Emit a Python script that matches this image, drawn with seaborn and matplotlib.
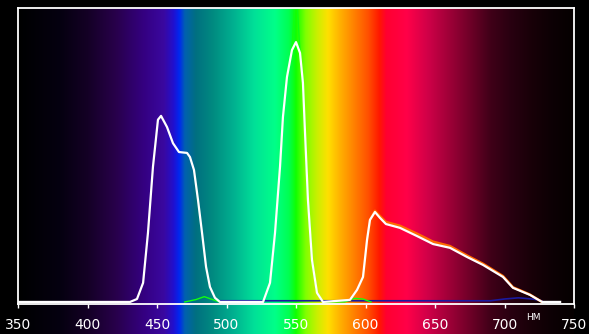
import numpy as np
import pandas as pd
import matplotlib
matplotlib.use("Agg")
import matplotlib.pyplot as plt
from matplotlib.colors import LinearSegmentedColormap
import seaborn as sns

# ---- data ----
white_wl = [350, 425, 430.6, 435.6, 440, 443.5, 447.1, 450.7, 452.9, 457.2, 461.5,
            465.8, 471.6, 473.7, 476.6, 479.5, 482.4, 485.3, 488.1, 491.7, 495.3,
            526.3, 531.3, 534.9, 538.5, 540.6, 543.5, 547.1, 550, 552.9, 555, 556.5,
            558.6, 561.5, 565.1, 569.4, 588.8, 593.9, 598.2, 601.1, 603.2, 606.8,
            610.4, 614.7, 624.8, 637.1, 648.6, 660.8, 673, 684.5, 698.9, 706.1,
            718.3, 727, 740]
white_val = [0, 0, 0.0, 0.01, 0.065, 0.235, 0.46, 0.62, 0.633, 0.595, 0.54,
             0.51, 0.507, 0.493, 0.449, 0.347, 0.235, 0.119, 0.051, 0.014, 0.0,
             0.0, 0.065, 0.235, 0.46, 0.629, 0.765, 0.857, 0.884, 0.847, 0.745, 0.575,
             0.347, 0.143, 0.031, 0.0, 0.007, 0.041, 0.085, 0.211, 0.279, 0.306,
             0.286, 0.265, 0.252, 0.224, 0.197, 0.184, 0.153, 0.126, 0.085, 0.048,
             0.024, 0.0, 0.0]

green_wl = [470, 478, 484, 490, 495, 526.3, 531.3, 534.9, 538.5, 540.6, 543.5,
            547.1, 549, 550, 551, 552.9, 555, 556.5, 558.6, 561.5, 565.1, 569.4,
            585, 592, 598, 604]
green_val = [0, 0.008, 0.018, 0.008, 0, 0.0, 0.065, 0.235, 0.46, 0.629, 0.765,
             0.857, 1.0, 1.1, 1.0, 0.847, 0.745, 0.575, 0.347, 0.143, 0.031, 0.0,
             0.0, 0.012, 0.01, 0]

red_wl = [588.8, 593.9, 598.2, 601.1, 603.2, 606.8, 610.4, 614.7, 624.8, 637.1,
          648.6, 660.8, 673, 684.5, 698.9, 706.1, 718.3, 727]
red_val = [0.007, 0.041, 0.085, 0.211, 0.279, 0.31, 0.292, 0.272, 0.259, 0.232,
           0.205, 0.19, 0.158, 0.13, 0.088, 0.05, 0.025, 0.0]

blue_wl = [495, 600, 690, 700, 710, 720, 727]
blue_val = [0.004, 0.004, 0.004, 0.01, 0.014, 0.01, 0.004]

tick_values = [350, 400, 450, 500, 550, 600, 650, 700, 750]
unit_label = "НМ"

# spectrum colour anchors (nm, colour)
spec_nm = [350, 380, 400, 420, 440, 455, 462, 466, 470, 478, 490, 505, 520, 535,
           545, 550, 557, 565, 573, 582, 592, 602, 610, 615, 630, 645, 660, 675,
           690, 705, 720, 735, 750]
spec_col = ["#000000", "#050010", "#140025", "#28004a", "#340080", "#3a08a0",
            "#2010d0", "#0028f0", "#0060b0", "#007080", "#008a80", "#00b090",
            "#00e098", "#00ff88", "#00ff50", "#10ff00", "#80ff00", "#c8f000",
            "#ffe000", "#ffb000", "#ff8000", "#ff5000", "#ff1800", "#ff0030",
            "#ff0048", "#d00048", "#a00038", "#700028", "#400018", "#280010",
            "#180008", "#0c0004", "#050000"]

# ---- figure ----
W, H = 589, 334
fig = plt.figure(figsize=(W / 100, H / 100), dpi=100, facecolor="black")

L, R, T, B = 18, 574, 8, 304
ax_bg = fig.add_axes([L / W, 0, (R - L) / W, (H - T) / H])
cmap = LinearSegmentedColormap.from_list(
    "spec", [((n - 350) / 400, c) for n, c in zip(spec_nm, spec_col)], N=1024)
grad = np.linspace(0, 1, 1024)[None, :]
ax_bg.imshow(grad, aspect="auto", cmap=cmap, extent=[350, 750, 0, 1])
ax_bg.set_axis_off()

ax = fig.add_axes([L / W, (H - B) / H, (R - L) / W, (B - T) / H])
ax.set_facecolor("none")

sns.lineplot(x=blue_wl, y=blue_val, ax=ax, color="#1a1aa0", lw=1.2, sort=False)
sns.lineplot(x=red_wl, y=red_val, ax=ax, color="#ff6a00", lw=1.8, sort=False)
sns.lineplot(x=green_wl, y=green_val, ax=ax, color="#10ff10", lw=1.0, sort=False)
sns.lineplot(x=white_wl, y=white_val, ax=ax, color="white", lw=1.6, sort=False)

ax.set_xlim(350, 750)
ax.set_ylim(-0.007, 1.0)
ax.set_yticks([])
ax.set_xticks(tick_values)
ax.set_xticklabels([str(v) for v in tick_values],
                   family=["Liberation Sans Narrow", "DejaVu Sans"])
ax.tick_params(axis="x", colors="white", labelcolor="white", length=3, width=1,
               direction="out", pad=7, labelsize=10)
for s in ax.spines.values():
    s.set_color("white")
    s.set_linewidth(1.3)
ax.set_xlabel("")
ax.set_ylabel("")

ax.annotate(unit_label, xy=(720.5, 0), xycoords=("data", "axes fraction"),
            xytext=(0, -14), textcoords="offset pixels", ha="center", va="center",
            color="white", fontsize=6.5,
            family=["Liberation Sans Narrow", "DejaVu Sans"])

fig.savefig("out.png", dpi=100, facecolor="black")
